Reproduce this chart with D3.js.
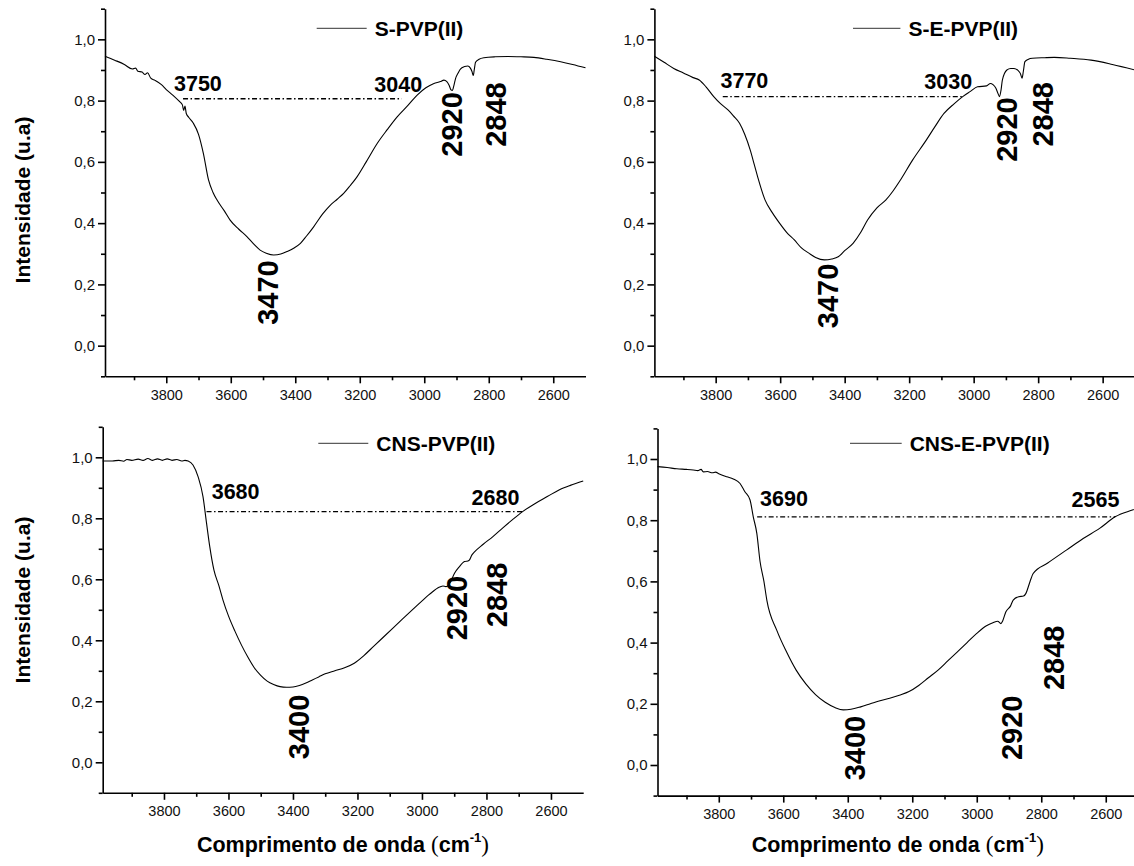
<!DOCTYPE html>
<html>
<head>
<meta charset="utf-8">
<script src="https://cdn.jsdelivr.net/npm/d3@7"></script>
<style>
  body { margin: 0; background: #fff; }
  svg { display: block; }
</style>
</head>
<body>
<svg id="chart" width="1134" height="866"></svg>
<script>
// tick values
var xMajor = [3800, 3600, 3400, 3200, 3000, 2800, 2600];
var xMinor = [3900, 3700, 3500, 3300, 3100, 2900, 2700];
var yMajor = [0, 0.2, 0.4, 0.6, 0.8, 1.0];
var yMinor = [-0.1, 0.1, 0.3, 0.5, 0.7, 0.9, 1.1];

var names = ["S-PVP(II)", "S-E-PVP(II)", "CNS-PVP(II)", "CNS-E-PVP(II)"];

// spectra: [wavenumber, intensity]
var sPVP = [[3990,.945],[3960,.932],[3930,.918],[3905,.903],[3895,.906],[3888,.896],[3875,.893],[3866,.885],[3858,.891],[3848,.873],
  [3835,.866],[3815,.852],[3800,.836],[3780,.818],[3760,.798],[3750,.786],[3746,.768],[3742,.782],[3738,.758],[3730,.745],
  [3716,.726],[3700,.69],[3685,.628],[3669,.541],[3655,.50],[3643,.476],[3620,.44],[3602,.41],[3575,.38],[3550,.356],
  [3530,.333],[3509,.312],[3490,.302],[3467,.296],[3445,.299],[3426,.307],[3405,.318],[3384,.334],[3365,.358],[3343,.388],
  [3315,.43],[3291,.459],[3270,.478],[3250,.497],[3230,.522],[3208,.552],[3180,.60],[3146,.66],[3115,.705],[3084,.747],
  [3050,.785],[3022,.818],[2995,.842],[2970,.856],[2950,.862],[2939,.867],[2930,.862],[2923,.85],[2917,.835],[2913,.833],
  [2908,.85],[2903,.872],[2895,.89],[2888,.903],[2875,.911],[2865,.913],[2857,.906],[2852,.895],[2848,.882],[2845,.9],
  [2841,.925],[2830,.935],[2815,.94],[2780,.943],[2740,.944],[2700,.943],[2660,.941],[2620,.935],[2577,.927],[2540,.918],[2500,.907]];

var sePVP = [[3990,.945],[3960,.925],[3930,.905],[3900,.89],[3870,.875],[3851,.867],[3830,.845],[3806,.813],[3785,.79],[3761,.769],
  [3745,.75],[3726,.726],[3710,.69],[3693,.639],[3680,.59],[3670,.552],[3647,.476],[3625,.435],[3602,.40],[3580,.37],
  [3556,.345],[3535,.32],[3511,.302],[3490,.288],[3463,.28],[3440,.283],[3420,.29],[3400,.31],[3374,.334],[3350,.37],
  [3329,.41],[3300,.45],[3272,.476],[3250,.505],[3227,.541],[3190,.605],[3147,.671],[3120,.715],[3092,.758],[3060,.79],
  [3034,.813],[3010,.83],[2988,.845],[2960,.848],[2948,.856],[2940,.852],[2931,.84],[2924,.822],[2920,.813],[2915,.835],
  [2911,.867],[2897,.9],[2885,.905],[2875,.905],[2862,.898],[2855,.888],[2850,.873],[2846,.895],[2841,.927],[2830,.935],
  [2818,.938],[2780,.94],[2750,.941],[2700,.938],[2636,.932],[2570,.918],[2500,.90]];

var cnsPVP = [[3990,.988],[3960,.988],[3940,.99],[3925,.987],[3915,.993],[3900,.99],[3880,.994],[3865,.99],[3850,.996],[3835,.99],
  [3820,.995],[3805,.99],[3790,.995],[3775,.99],[3760,.993],[3745,.988],[3735,.99],[3725,.988],[3710,.975],[3694,.936],
  [3679,.871],[3668,.784],[3658,.707],[3645,.63],[3630,.58],[3617,.532],[3600,.48],[3580,.43],[3560,.385],[3540,.345],
  [3520,.31],[3500,.285],[3480,.266],[3460,.255],[3440,.248],[3420,.246],[3400,.247],[3380,.252],[3360,.26],[3340,.27],
  [3320,.28],[3300,.29],[3270,.30],[3240,.31],[3210,.325],[3180,.35],[3150,.38],[3120,.41],[3090,.44],[3060,.47],
  [3030,.50],[2997,.532],[2980,.548],[2966,.56],[2950,.572],[2935,.578],[2926,.576],[2920,.578],[2910,.595],[2899,.62],
  [2885,.64],[2868,.658],[2858,.66],[2853,.663],[2845,.68],[2837,.69],[2810,.715],[2780,.74],[2750,.768],[2720,.795],
  [2688,.822],[2650,.848],[2610,.872],[2575,.893],[2540,.908],[2500,.922]];

var cnsePVP = [[3990,.975],[3960,.972],[3930,.968],[3900,.966],[3879,.964],[3865,.962],[3855,.966],[3848,.958],[3835,.959],[3820,.955],
  [3810,.957],[3800,.952],[3775,.942],[3755,.935],[3734,.92],[3719,.893],[3703,.866],[3693,.811],[3682,.757],[3672,.665],
  [3660,.60],[3651,.539],[3620,.44],[3590,.37],[3560,.31],[3530,.265],[3500,.23],[3470,.205],[3440,.188],[3414,.18],
  [3390,.182],[3360,.19],[3330,.20],[3300,.21],[3270,.218],[3240,.228],[3210,.24],[3180,.26],[3150,.285],[3120,.31],
  [3090,.34],[3060,.37],[3030,.40],[3000,.43],[2970,.455],[2950,.465],[2935,.47],[2925,.462],[2920,.47],[2910,.50],
  [2895,.52],[2887,.539],[2870,.55],[2855,.552],[2848,.56],[2835,.599],[2825,.626],[2780,.66],[2721,.703],[2670,.74],
  [2618,.774],[2571,.811],[2515,.834],[2500,.84]];

var spectra = [sPVP, sePVP, cnsPVP, cnsePVP];

// dash-dot baselines: [from wavenumber, to wavenumber, intensity]
var baselines = [[3748, 3070, .806], [3778, 3034, .813], [3668, 2688, .822], [3681, 2571, .811]];

// horizontal labels: [text, wavenumber, intensity]
var flatLabels = [
  [["3750", 3776, .832], ["3040", 3155, .829]],
  [["3770", 3785, .84], ["3030", 3153, .837]],
  [["3680", 3652, .862], ["2680", 2846, .844]],
  [["3690", 3672, .846], ["2565", 2706, .844]]
];
// vertical peak labels: [text, wavenumber (centre), intensity (bottom)]
var peakLabels = [
  [["3470", 3485, .068], ["2920", 2913, .617], ["2848", 2776, .649]],
  [["3470", 3453, .057], ["2920", 2898, .60], ["2848", 2784, .65]],
  [["3400", 3382, .01], ["2920", 2891, .40], ["2848", 2768, .443]],
  [["3400", 3377, -.05], ["2920", 2890, .016], ["2848", 2762, .245]]
];

var panels = [
  {x0: 105, x1: 585.5, yTop: 8.7, yBot: 376.3, leg: [316.7, 366.7, 28.3], yTitle: 200},
  {x0: 654.4, x1: 1134.9, yTop: 8.7, yBot: 376.3, leg: [853, 900.4, 28.3]},
  {x0: 102.7, x1: 583.2, yTop: 426.8, yBot: 792.8, leg: [318.3, 368.3, 443.3], yTitle: 600, xTitle: 852},
  {x0: 657.5, x1: 1138, yTop: 428.4, yBot: 795.6, leg: [850, 901.7, 443.3], xTitle: 852}
];

var svg = d3.select("#chart");
svg.append("rect").attr("width", 1134).attr("height", 866).attr("fill", "#fff");

var FONT = "'Liberation Sans', Arial, sans-serif";
var comma = function(d) { return d3.format(".1f")(d).replace(".", ","); };

panels.forEach(function(p, i) {
  var x = d3.scaleLinear().domain([3990, 2500]).range([p.x0, p.x1]);
  var y = d3.scaleLinear().domain([-0.1, 1.1]).range([p.yBot, p.yTop]);
  var g = svg.append("g");

  // axes
  var yAx = g.append("g").attr("transform", "translate(" + p.x0 + ",0)")
    .call(d3.axisLeft(y).tickValues(yMajor).tickFormat(comma).tickSize(7).tickSizeOuter(0).tickPadding(3));
  g.append("g").attr("transform", "translate(" + p.x0 + ",0)")
    .call(d3.axisLeft(y).tickValues(yMinor).tickFormat("").tickSize(4).tickSizeOuter(0))
    .select(".domain").remove();
  var xAx = g.append("g").attr("transform", "translate(0," + p.yBot + ")")
    .call(d3.axisBottom(x).tickValues(xMajor).tickFormat(d3.format("d")).tickSize(7).tickSizeOuter(0).tickPadding(6));
  g.append("g").attr("transform", "translate(0," + p.yBot + ")")
    .call(d3.axisBottom(x).tickValues(xMinor).tickFormat("").tickSize(4).tickSizeOuter(0))
    .select(".domain").remove();
  g.selectAll(".domain, .tick line").attr("stroke", "#000").attr("stroke-width", 1.6);
  yAx.selectAll("text").attr("font-family", FONT).attr("font-size", 15).attr("fill", "#111");
  xAx.selectAll("text").attr("font-family", FONT).attr("font-size", 14.5).attr("fill", "#111");

  // baseline
  var b = baselines[i];
  g.append("line")
    .attr("x1", x(b[0])).attr("x2", x(b[1])).attr("y1", y(b[2])).attr("y2", y(b[2]))
    .attr("stroke", "#000").attr("stroke-width", 1.3).attr("stroke-dasharray", "5,2.5,1.5,2.5");

  // spectrum
  var line = d3.line().x(function(d) { return x(d[0]); }).y(function(d) { return y(d[1]); })
    .curve(d3.curveMonotoneX);
  g.append("path").datum(spectra[i]).attr("d", line)
    .attr("fill", "none").attr("stroke", "#000").attr("stroke-width", 1.1);

  // labels
  g.selectAll(".flat").data(flatLabels[i]).enter().append("text")
    .attr("x", function(d) { return x(d[1]); }).attr("y", function(d) { return y(d[2]); })
    .attr("font-family", FONT).attr("font-weight", "bold").attr("font-size", 21.5)
    .text(function(d) { return d[0]; });
  g.selectAll(".peak").data(peakLabels[i]).enter().append("text")
    .attr("transform", function(d) { return "translate(" + x(d[1]) + "," + y(d[2]) + ") rotate(-90)"; })
    .attr("dominant-baseline", "central")
    .attr("font-family", FONT).attr("font-weight", "bold").attr("font-size", 29)
    .text(function(d) { return d[0]; });

  // legend
  g.append("line").attr("x1", p.leg[0]).attr("x2", p.leg[1]).attr("y1", p.leg[2]).attr("y2", p.leg[2])
    .attr("stroke", "#333").attr("stroke-width", 1);
  g.append("text").attr("x", p.leg[1] + 8).attr("y", p.leg[2] + 8)
    .attr("font-family", FONT).attr("font-weight", "bold").attr("font-size", 21)
    .text(names[i]);

  // titles
  if (p.yTitle) {
    g.append("text").attr("transform", "translate(22," + p.yTitle + ") rotate(-90)")
      .attr("text-anchor", "middle").attr("dominant-baseline", "central")
      .attr("font-family", FONT).attr("font-weight", "bold").attr("font-size", 21)
      .text("Intensidade (u.a)");
  }
  if (p.xTitle) {
    var t = g.append("text").attr("x", (p.x0 + p.x1) / 2).attr("y", p.xTitle)
      .attr("text-anchor", "middle").attr("font-family", FONT).attr("font-weight", "bold").attr("font-size", 21.5);
    t.append("tspan").text("Comprimento de onda ");
    t.append("tspan").attr("font-family", "'Liberation Serif', serif").attr("font-weight", "normal").attr("font-size", 23).text("(");
    t.append("tspan").text("cm");
    t.append("tspan").attr("font-size", 13).attr("dy", -10).text("-1");
    t.append("tspan").attr("dy", 10).attr("font-family", "'Liberation Serif', serif").attr("font-weight", "normal").attr("font-size", 23).text(")");
  }
});
</script>
</body>
</html>
